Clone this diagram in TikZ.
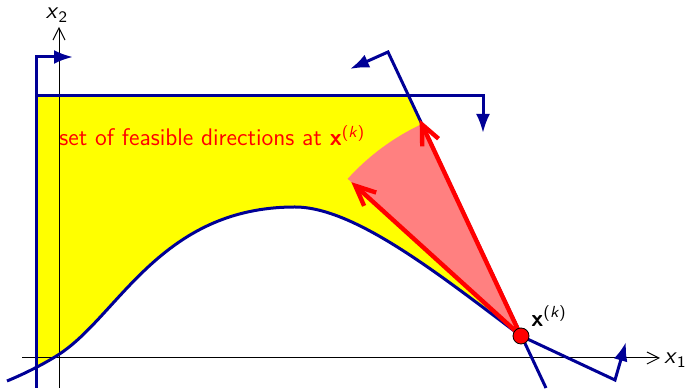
\documentclass[tikz,border=0pt]{standalone}
\usetikzlibrary{arrows.meta, calc}
\definecolor{cnavy}{RGB}{0,0,150}
\definecolor{cpink}{RGB}{255,128,128}
\definecolor{cyellow}{RGB}{255,255,0}

\begin{document}
\begin{tikzpicture}[
		x=0.5pt, y=-0.5pt,
		font=\sffamily\fontsize{12}{14}\selectfont,
		ax/.style={line width=0.5pt, -{Straight Barb[length=6pt,width=6pt]}},
		bnd/.style={cnavy, line width=1.5pt, -{Latex[length=9.5pt,width=7pt]}},
		dir/.style={red, line width=2.2pt, -{Straight Barb[length=10pt,width=9pt]}}
		]
		\useasboundingbox (0,0) rectangle (687,389);
		\coordinate (xk) at (521,336);
		\coordinate (cstart) at (7,381);
		\coordinate (corig) at (58,355);
		\coordinate (cpeak) at (295,207);
		\coordinate (ltop) at (388,52);
		\coordinate (lbot) at (546,388);
		\coordinate (lhead) at (350,69);
		\coordinate (cend) at (615,380);
		\coordinate (chead) at (626,342);
		\coordinate (vbot) at (36,388);
		\coordinate (vtop) at (36,57);
		\coordinate (vhead) at (73,57);
		\coordinate (hleft) at (36,96);
		\coordinate (hright) at (483,96);
		\coordinate (hhead) at (483,133);
		\coordinate (d1) at ($(xk)!119.5pt!(ltop)$);
		\coordinate (d2) at ($(xk)+(137.8:114.5pt)$);
		\coordinate (ax1s) at (22,358);
		\coordinate (ax1e) at (660,358);
		\coordinate (ax2s) at (59,388);
		\coordinate (ax2e) at (59,27);
		
		\begin{scope}
			\clip (36,96) rectangle (700,400);
			\fill[cyellow] (cstart) .. controls (24,374) and (44,364) .. (corig) .. controls (118,317) and (160,207) .. (cpeak) .. controls (355,207) and (441,276) .. (xk) -- (ltop) -- (7,52) -- cycle;
		\end{scope}
		\fill[cpink] (xk) -- ($(xk)!117pt!(ltop)$) arc[start angle=115.1, end angle=137.8, radius=117pt] -- cycle;
		
		\draw[ax] (ax1s) -- (ax1e);
		\draw[ax] (ax2s) -- (ax2e);
		
		\draw[bnd] (vbot) -- (vtop) -- (vhead);
		\draw[bnd] (hleft) -- (hright) -- (hhead);
		\draw[bnd] (lbot) -- (ltop) -- (lhead);
		\draw[bnd] (cstart) .. controls (24,374) and (44,364) .. (corig) .. controls (118,317) and (160,207) .. (cpeak) .. controls (355,207) and (441,276) .. (xk) -- (cend) -- (chead);
		
		\draw[dir] (xk) -- (d1);
		\draw[dir] (xk) -- (d2);
		\node[circle, fill=red, draw=black, line width=0.4pt, minimum size=8pt, inner sep=0pt] (xkdot) at (xk) {};
		
		\node[anchor=base west, red, inner sep=0pt] (feas) at (59,146) {set of feasible directions at \textbf{x}\textsuperscript{(\textsl{k})}};
		\node[anchor=south west, inner sep=0pt] (xklbl) at (531,327) {\textbf{x}\textsuperscript{(\textsl{k})}};
		\node[anchor=west, inner sep=0pt] (x1lbl) at (664,360) {\textsl{x}\textsubscript{1}};
		\node[inner sep=0pt] (x2lbl) at (57,15) {\textsl{x}\textsubscript{2}};
	\end{tikzpicture}
\end{document}
